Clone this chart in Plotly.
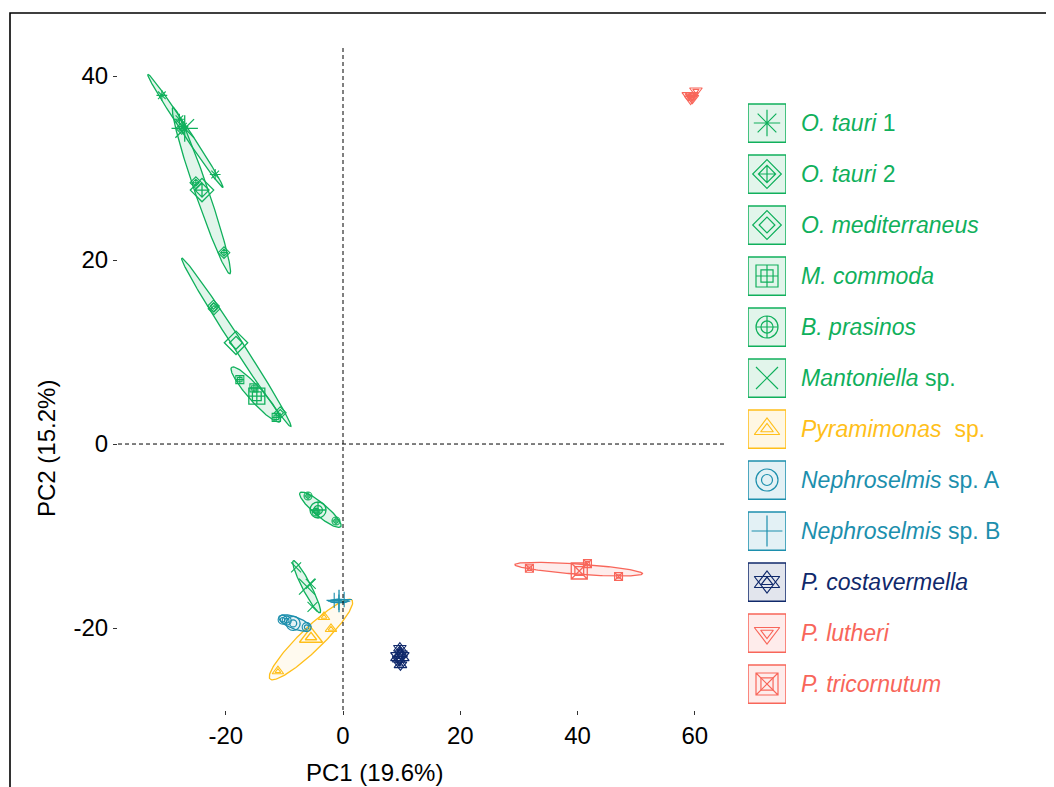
import numpy as np
import plotly.graph_objects as go

W, H = 1054, 787
OFF = 8  # page body margin of the browser

# ---------------- data ----------------
species_html = [
    "<i>O. tauri</i> 1", "<i>O. tauri</i> 2", "<i>O. mediterraneus</i>",
    "<i>M. commoda</i>", "<i>B. prasinos</i>", "<i>Mantoniella</i> sp.",
    "<i>Pyramimonas</i>\u00a0 sp.", "<i>Nephroselmis</i> sp. A",
    "<i>Nephroselmis</i> sp. B", "<i>P. costavermella</i>",
    "<i>P. lutheri</i>", "<i>P. tricornutum</i>",
]

ot1_x = [-30.9, -27.9, -27.3, -21.8];  ot1_y = [37.9, 35.3, 34.5, 29.3]
ot2_x = [-27.5, -25.1, -20.3];         ot2_y = [34.3, 28.4, 20.8]
omed_x = [-22.0, -22.1, -10.7];        omed_y = [14.7, 15.0, 3.4]
mcom_x = [-17.6, -15.2, -11.4];        mcom_y = [7.0, 6.1, 2.9]
bpra_x = [-5.97, -4.6, -1.2];          bpra_y = [-5.65, -7.4, -8.37]
mant_x = [-8.0, -5.5, -5.2];           mant_y = [-13.4, -15.2, -17.7]
pyr_x = [-11.1, -3.24, -2.05];         pyr_y = [-24.7, -18.8, -20.1]
nepA_x = [-10.3, -9.6, -6.2];          nepA_y = [-19.1, -19.2, -19.9]
nepB_x = [-1.5, -0.7, 0.2];            nepB_y = [-17.0, -17.2, -16.9]
pcos_x = [9.7, 9.9, 9.5, 9.8];         pcos_y = [-22.2, -22.8, -23.4, -24.0]
plut_x = [58.9, 59.6, 60.2, 59.3];     plut_y = [37.9, 37.6, 38.4, 37.5]
ptri_x = [31.8, 41.7, 47.0];           ptri_y = [-13.5, -13.0, -14.4]

points_x = [ot1_x, ot2_x, omed_x, mcom_x, bpra_x, mant_x, pyr_x, nepA_x, nepB_x, pcos_x, plut_x, ptri_x]
points_y = [ot1_y, ot2_y, omed_y, mcom_y, bpra_y, mant_y, pyr_y, nepA_y, nepB_y, pcos_y, plut_y, ptri_y]

cent_x = [-27.0, -24.05, -18.25, -14.7, -4.26, -6.14, -5.46, -8.5, -0.68, 9.7, 59.5, 40.3]
cent_y = [34.3, 27.6, 11.0, 5.2, -7.17, -15.5, -21.0, -19.5, -17.07, -23.1, 37.9, -13.8]

# ellipse: centre, major half-axis vector (data units), minor/major ratio
ell_cx = [-26.9, -24.15, -18.2, -14.87, -3.86, -6.2, -5.46, -8.2, -0.68, 9.7, 59.5, 40.2]
ell_cy = [34.05, 27.55, 11.05, 5.38, -7.14, -15.51, -21.25, -19.45, -17.07, -23.1, 37.9, -13.6]
ell_ux = [-6.4, -4.85, -9.3, -4.13, -3.47, -2.28, -6.99, -2.73, -1.6, 0.1, 0.7, -10.9]
ell_uy = [6.15, 9.05, 9.15, 2.96, 1.85, 2.83, -4.29, 0.65, 0.0, 1.0, 0.2, 0.5]
ell_r = [0.05, 0.075, 0.05, 0.2, 0.24, 0.15, 0.2, 0.35, 0.2, 0.3, 0.5, 0.08]

x_ticks = [-20, 0, 20, 40, 60]
x_ticktext = ["-20", "0", "20", "40", "60"]
y_ticks = [-20, 0, 20, 40]
y_ticktext = ["-20", "0", "20", "40"]
x_range = [-38.38, 65.16]
y_range = [-28.91, 43.37]

# ---------------- styles ----------------
GREEN, GOLD, TEAL, NAVY, SALMON = "#10B05C", "#FFBF1A", "#1C8FAD", "#10296B", "#F8665A"
colors = [GREEN] * 6 + [GOLD, TEAL, TEAL, NAVY, SALMON, SALMON]
fill_alpha = [0.12] * 6 + [0.07, 0.12, 0.12, 0.12, 0.12, 0.12]

sym_specs = [
    [("asterisk-open", 1.0)],
    [("diamond-open", 1.0), ("diamond-cross-open", 0.6)],
    [("diamond-open", 1.0), ("diamond-open", 0.55)],
    [("square-cross-open", 1.0), ("square-open", 0.55)],
    [("circle-cross-open", 1.0), ("circle-open", 0.55)],
    [("x-thin-open", 1.0)],
    [("triangle-up-open", 1.0), ("triangle-up-open", 0.5)],
    [("circle-open", 1.0), ("circle-open", 0.5)],
    [("cross-thin-open", 1.0)],
    [("triangle-up-open", 1.0), ("triangle-down-open", 1.0), ("triangle-up-open", 0.45)],
    [("triangle-down-open", 1.0), ("triangle-down-open", 0.5)],
    [("square-x-open", 1.0), ("square-open", 0.55)],
]
pt_size = [9, 9, 9, 8, 8, 10, 10, 9, 11, 11, 11, 8]
cent_size = [22, 18, 18, 16, 16, 16, 20, 14, 16, 16, 11, 16]

FONT = "Liberation Sans, Arial"


def rgba(hexc, a):
    h = hexc.lstrip("#")
    return "rgba(%d,%d,%d,%.3f)" % (int(h[0:2], 16), int(h[2:4], 16), int(h[4:6], 16), a)


def px(v):
    return v - OFF


# plot area in (reference) pixels
PL, PR, PT, PB = 118, 725, 45, 710
sx = (PR - PL) / (x_range[1] - x_range[0])
sy = (PB - PT) / (y_range[1] - y_range[0])

fig = go.Figure()

# ellipses
t = np.linspace(0, 2 * np.pi, 200)
for i in range(len(colors)):
    Ux, Uy = ell_ux[i] * sx, ell_uy[i] * sy
    Vx, Vy = -Uy * ell_r[i], Ux * ell_r[i]
    vx, vy = Vx / sx, Vy / sy
    ex = ell_cx[i] + np.cos(t) * ell_ux[i] + np.sin(t) * vx
    ey = ell_cy[i] + np.cos(t) * ell_uy[i] + np.sin(t) * vy
    fig.add_trace(go.Scatter(x=ex, y=ey, mode="lines", fill="toself",
                             fillcolor=rgba(colors[i], fill_alpha[i]),
                             line=dict(color=colors[i], width=1.3),
                             hoverinfo="skip", showlegend=False))

# points and centroids
for i in range(len(colors)):
    for sym, sc in sym_specs[i]:
        fig.add_trace(go.Scatter(x=points_x[i], y=points_y[i], mode="markers",
                                 marker=dict(symbol=sym, size=pt_size[i] * sc,
                                             color=colors[i],
                                             line=dict(color=colors[i], width=1.1)),
                                 showlegend=False, hoverinfo="skip"))
        fig.add_trace(go.Scatter(x=[cent_x[i]], y=[cent_y[i]], mode="markers",
                                 marker=dict(symbol=sym, size=cent_size[i] * sc,
                                             color=colors[i],
                                             line=dict(color=colors[i], width=1.3)),
                                 showlegend=False, hoverinfo="skip"))

# custom legend on its own axes
n = len(species_html)
rows = list(range(n))
ROW0, ROWSTEP = 123, 51
for i in rows:
    for sym, sc in sym_specs[i]:
        fig.add_trace(go.Scatter(x=[0.5], y=[i], xaxis="x2", yaxis="y2", mode="markers",
                                 marker=dict(symbol=sym, size=22 * sc, color=colors[i],
                                             line=dict(color=colors[i], width=1.2)),
                                 showlegend=False, hoverinfo="skip"))

shapes = []
annotations = []
for i in rows:
    shapes.append(dict(type="rect", xref="x2", yref="y2", x0=0, x1=1,
                       y0=i - 0.375, y1=i + 0.375,
                       fillcolor=rgba(colors[i], 0.12),
                       line=dict(color=colors[i], width=1.5), layer="below"))
    annotations.append(dict(xref="paper", yref="y2", x=px(799) / W, y=i, xanchor="left",
                            yanchor="middle", text=species_html[i], showarrow=False,
                            font=dict(size=23, color=colors[i], family=FONT)))

# reference lines
shapes.append(dict(type="line", xref="x", yref="y domain", x0=0, x1=0, y0=0, y1=1,
                   line=dict(color="black", width=1, dash="4px,3px")))
shapes.append(dict(type="line", xref="x domain", yref="y", x0=0, x1=1, y0=0, y1=0,
                   line=dict(color="black", width=1, dash="4px,3px")))
# outer frame
shapes.append(dict(type="rect", xref="paper", yref="paper", x0=px(10) / W, x1=1.2,
                   y0=-0.2, y1=1 - px(13) / H, line=dict(color="black", width=1.6),
                   fillcolor="rgba(0,0,0,0)"))

# axis titles
annotations.append(dict(xref="paper", yref="paper", x=px(374) / W, y=1 - px(772) / H,
                        text="PC1 (19.6%)", showarrow=False, xanchor="center", yanchor="middle",
                        font=dict(size=24, color="black", family=FONT)))
annotations.append(dict(xref="paper", yref="paper", x=px(47) / W, y=1 - px(449) / H,
                        text="PC2 (15.2%)", showarrow=False, textangle=-90,
                        xanchor="center", yanchor="middle",
                        font=dict(size=24, color="black", family=FONT)))

axis_common = dict(showgrid=False, zeroline=False, showline=False, ticks="outside",
                   ticklen=4, tickwidth=1, tickcolor="#333333",
                   tickfont=dict(size=24, color="black", family=FONT),
                   automargin=False)

fig.update_layout(
    width=W, height=H,
    margin=dict(l=0, r=0, t=0, b=0),
    paper_bgcolor="white", plot_bgcolor="rgba(0,0,0,0)",
    xaxis=dict(domain=[px(PL) / W, px(PR) / W], range=x_range,
               tickvals=x_ticks, ticktext=x_ticktext, **axis_common),
    yaxis=dict(domain=[1 - px(PB) / H, 1 - px(PT) / H], range=y_range,
               tickvals=y_ticks, ticktext=y_ticktext, **axis_common),
    xaxis2=dict(domain=[px(748) / W, px(786) / W], range=[0, 1], visible=False, anchor="y2"),
    yaxis2=dict(domain=[1 - px(ROW0 + ROWSTEP * (n - 1) + ROWSTEP / 2) / H,
                        1 - px(ROW0 - ROWSTEP / 2) / H],
                range=[n - 0.5, -0.5], visible=False, anchor="x2"),
    shapes=shapes, annotations=annotations, showlegend=False,
)

fig.write_html("out.html")
